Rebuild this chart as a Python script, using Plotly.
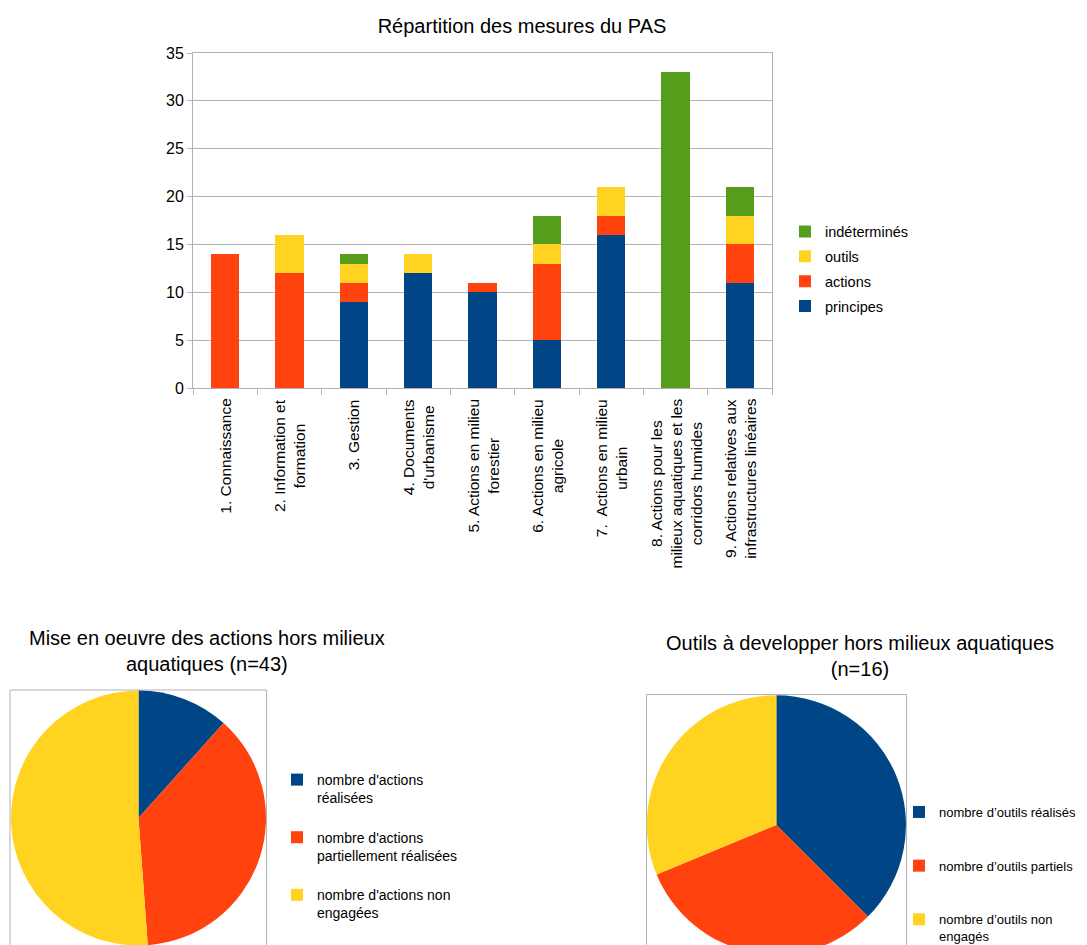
import plotly.graph_objects as go

# ---------------- data ----------------
categories = [
    "1. Connaissance",
    "2. Information et<br>formation",
    "3. Gestion",
    "4. Documents<br>d'urbanisme",
    "5. Actions en milieu<br>forestier",
    "6. Actions en milieu<br>agricole",
    "7.  Actions en milieu<br>urbain",
    "8. Actions pour les<br>milieux aquatiques et les<br>corridors humides",
    "9. Actions relatives aux<br>infrastructures linéaires",
]
principes = [0, 0, 9, 12, 10, 5, 16, 0, 11]
actions = [14, 12, 2, 0, 1, 8, 2, 0, 4]
outils = [0, 4, 2, 2, 0, 2, 3, 0, 3]
indetermines = [0, 0, 1, 0, 0, 3, 0, 33, 3]
y_ticks = [0, 5, 10, 15, 20, 25, 30, 35]

pie1_labels = ["nombre d'actions<br>réalisées<br> ",
               "nombre d'actions<br>partiellement réalisées<br> ",
               "nombre d'actions non<br>engagées<br> "]
pie1_values = [5, 16, 22]
pie2_labels = ["nombre d\u2019outils réalisés<br> <br> ",
               "nombre d\u2019outils partiels<br> <br> ",
               "nombre d\u2019outils non<br>engagés"]
pie2_values = [6, 5, 5]

BLUE, RED, YELLOW, GREEN = "#004586", "#ff420e", "#ffd320", "#579d1c"
GRID = "#b3b3b3"
FONT = "Liberation Sans, Arial, sans-serif"

W, H = 1087, 960
def px(x): return x / W
def py(y): return 1 - y / H

fig = go.Figure()
series = [("principes", principes, BLUE, 4), ("actions", actions, RED, 3),
          ("outils", outils, YELLOW, 2), ("indéterminés", indetermines, GREEN, 1)]
for name, vals, col, rank in series:
    fig.add_trace(go.Bar(x=categories, y=vals, name=name, marker_color=col,
                         marker_line_width=0, legendgroup=name, legendrank=rank,
                         legend="legend"))

fig.add_trace(go.Pie(labels=pie1_labels, values=pie1_values, sort=False, direction="clockwise",
                     rotation=0, marker=dict(colors=[BLUE, RED, YELLOW], line=dict(width=0)),
                     textinfo="none", domain=dict(x=[px(11), px(266)], y=[py(945.5), py(690.5)]),
                     legend="legend2"))
fig.add_trace(go.Pie(labels=pie2_labels, values=pie2_values, sort=False, direction="clockwise",
                     rotation=0, marker=dict(colors=[BLUE, RED, YELLOW], line=dict(width=0)),
                     textinfo="none", domain=dict(x=[px(646.7), px(906)], y=[py(954.5), py(695.3)]),
                     legend="legend3"))

# category labels, rotated, lines centred (as in the original)
label_annots = [
    dict(text=c, x=c, xref="x", y=py(397), yref="paper", xanchor="center", yanchor="top",
         textangle=-90, align="center", showarrow=False, font=dict(size=15.5, family=FONT))
    for c in categories
]

fig.update_layout(
    width=W, height=H,
    margin=dict(l=0, r=0, t=0, b=0, autoexpand=False),
    paper_bgcolor="white", plot_bgcolor="white",
    font=dict(family=FONT, size=14, color="#000000"),
    barmode="stack", bargap=0.56,
    title=dict(text="Répartition des mesures du PAS", x=px(522), y=py(26),
               xanchor="center", yanchor="middle", font=dict(size=20, family=FONT)),
    xaxis=dict(domain=[px(193), px(772)], showline=True, linecolor=GRID, mirror=True,
               ticks="outside", tickson="boundaries", ticklen=6, tickcolor=GRID,
               showticklabels=False, showgrid=False),
    yaxis=dict(domain=[py(388), py(53)], range=[0, 35], tickvals=y_ticks,
               showline=True, linecolor=GRID, mirror=True, ticks="outside", ticklen=5,
               tickcolor=GRID, gridcolor=GRID, tickfont=dict(size=16), zeroline=False),
    legend=dict(x=px(785), y=py(269), xanchor="left", yanchor="middle",
                traceorder="grouped", tracegroupgap=3,
                font=dict(size=14.5, family=FONT), bgcolor="rgba(0,0,0,0)"),
    legend2=dict(x=px(277), y=py(764), xanchor="left", yanchor="top", valign="top",
                 font=dict(size=14, family=FONT), bgcolor="rgba(0,0,0,0)"),
    legend3=dict(x=px(899), y=py(797), xanchor="left", yanchor="top", valign="top",
                 font=dict(size=13, family=FONT), bgcolor="rgba(0,0,0,0)"),
    annotations=label_annots + [
        dict(text="Mise en oeuvre des actions hors milieux<br>aquatiques (n=43)",
             x=px(207), y=py(651), xref="paper", yref="paper", showarrow=False,
             xanchor="center", yanchor="middle", font=dict(size=20, family=FONT)),
        dict(text="Outils à developper hors milieux aquatiques<br>(n=16)",
             x=px(860), y=py(656), xref="paper", yref="paper", showarrow=False,
             xanchor="center", yanchor="middle", font=dict(size=20, family=FONT)),
    ],
    shapes=[
        dict(type="rect", xref="paper", yref="paper", x0=px(10), x1=px(266.5),
             y0=py(990), y1=py(690), line=dict(color=GRID, width=1), layer="below"),
        dict(type="rect", xref="paper", yref="paper", x0=px(646.5), x1=px(906.5),
             y0=py(990), y1=py(694.5), line=dict(color=GRID, width=1), layer="below"),
    ],
)

fig.write_html("out.html", config={"displayModeBar": False},
               post_script="document.body.style.margin='0';document.body.style.overflow='hidden';")
